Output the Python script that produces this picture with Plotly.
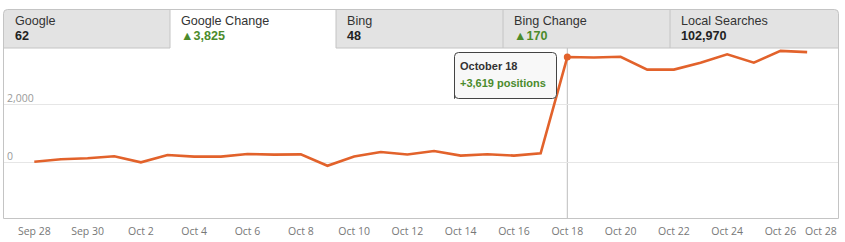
import plotly.graph_objects as go
import pandas as pd

# ---------------- data ----------------
DATES = pd.date_range("2013-09-28", "2013-10-27", freq="D")
GOOGLE_CHANGE = [10, 95, 130, 200, -10, 240, 185, 185, 275, 255,
                 262, -130, 190, 345, 260, 380, 220, 265, 220, 300,
                 3619, 3605, 3630, 3185, 3185, 3425, 3715, 3425, 3830, 3790]
TICK_DATES = pd.date_range("2013-09-28", "2013-10-26", freq="2D")
TICK_LABELS = [d.strftime("%b ") + str(d.day) for d in TICK_DATES]
LAST_TICK_DATE = pd.Timestamp("2013-10-28")
LAST_TICK_LABEL = "Oct 28"
Y_TICKS = [0, 2000]
Y_TICK_LABELS = ["0", "2,000"]
TAB_NAMES = ["Google", "Google Change", "Bing", "Bing Change", "Local Searches"]
TAB_VALUES = ["62", "▲3,825", "48", "▲170", "102,970"]
TAB_POSITIVE = [False, True, False, True, False]
SELECTED_TAB = 1
HOVER_INDEX = 20
HOVER_TITLE = "October 18"
HOVER_TEXT = "+3,619 positions"

# ---------------- geometry helpers ----------------
W, H = 845, 242
def px(x):
    return x / W
def py(y):
    return 1 - y / H

PL, PR, PT, PB = 4, 838, 48, 218        # plot area in pixels
TAB_TOP = 9.5
TAB_EDGES = [3.5, 170, 336, 503, 670, 838.5]

ORANGE = "#e2622b"
GREEN = "#4b8b2c"
BORDER = "#c4c4c4"
TAB_FILL = "#e3e3e3"

def path_px(points, close=False):
    s = ""
    for i, p in enumerate(points):
        if p[0] == "Q":
            _, cx, cy, x, y = p
            s += f" Q{px(cx)},{py(cy)} {px(x)},{py(y)}"
        else:
            x, y = p
            s += ("M" if i == 0 else " L") + f"{px(x)},{py(y)}"
    if close:
        s += " Z"
    return s

def rrect(x0, y0, x1, y1, r, top_only=False):
    pts = [(x0, y1), (x0, y0 + r), ("Q", x0, y0, x0 + r, y0), (x1 - r, y0),
           ("Q", x1, y0, x1, y0 + r)]
    if top_only:
        pts += [(x1, y1)]
    else:
        pts += [(x1, y1 - r), ("Q", x1, y1, x1 - r, y1), (x0 + r, y1),
                ("Q", x0, y1, x0, y1 - r)]
    return path_px(pts, close=True)

# x range from pixel calibration (Sep 28 at 34.3 px, 26.65 px/day)
day_px = 26.65
x0_date = DATES[0] + pd.Timedelta(days=(PL - 34.3) / day_px)
x1_date = DATES[0] + pd.Timedelta(days=(PR - 34.3) / day_px)
# y range from pixel calibration (0 at 162 px, 29 px per 1000)
ppu = 0.029
y_lo = (162 - PB) / ppu
y_hi = (162 - PT) / ppu

fig = go.Figure()
fig.add_trace(go.Scatter(x=DATES, y=GOOGLE_CHANGE, mode="lines",
                         line=dict(color=ORANGE, width=2.6), hoverinfo="skip"))
fig.add_trace(go.Scatter(x=[DATES[HOVER_INDEX]], y=[GOOGLE_CHANGE[HOVER_INDEX]],
                         mode="markers", marker=dict(color=ORANGE, size=7),
                         hoverinfo="skip"))

shapes = []
# hover vertical line
shapes.append(dict(type="line", xref="x", yref="paper",
                   x0=DATES[HOVER_INDEX], x1=DATES[HOVER_INDEX],
                   y0=py(PT), y1=py(PB), line=dict(color="#bdbdbd", width=1),
                   layer="below"))
# tab row background
shapes.append(dict(type="path", xref="paper", yref="paper",
                   path=rrect(TAB_EDGES[0], TAB_TOP, TAB_EDGES[-1], PT, 4, top_only=True),
                   fillcolor=TAB_FILL, line=dict(width=0)))
# selected tab white
shapes.append(dict(type="rect", xref="paper", yref="paper",
                   x0=px(TAB_EDGES[SELECTED_TAB]), x1=px(TAB_EDGES[SELECTED_TAB + 1]),
                   y0=py(PT + 1), y1=py(TAB_TOP + 0.5),
                   fillcolor="white", line=dict(width=0)))
# outer border (rounded top corners)
shapes.append(dict(type="path", xref="paper", yref="paper",
                   path=rrect(TAB_EDGES[0], TAB_TOP, TAB_EDGES[-1], PB + 0.5, 4, top_only=True),
                   line=dict(color=BORDER, width=1)))
# tab separators
for e in TAB_EDGES[1:-1]:
    shapes.append(dict(type="line", xref="paper", yref="paper",
                       x0=px(e), x1=px(e), y0=py(TAB_TOP), y1=py(PT),
                       line=dict(color=BORDER, width=1)))
# tab bottom line except under selected
shapes.append(dict(type="line", xref="paper", yref="paper",
                   x0=px(TAB_EDGES[0]), x1=px(TAB_EDGES[SELECTED_TAB]),
                   y0=py(PT), y1=py(PT), line=dict(color=BORDER, width=1)))
shapes.append(dict(type="line", xref="paper", yref="paper",
                   x0=px(TAB_EDGES[SELECTED_TAB + 1]), x1=px(TAB_EDGES[-1]),
                   y0=py(PT), y1=py(PT), line=dict(color=BORDER, width=1)))
# tooltip box
shapes.append(dict(type="path", xref="paper", yref="paper",
                   path=rrect(454.5, 52.5, 556.5, 98.5, 4),
                   fillcolor="#f8f8f8", line=dict(color="#444444", width=1)))

annotations = []
for i, (name, val, pos) in enumerate(zip(TAB_NAMES, TAB_VALUES, TAB_POSITIVE)):
    xl = px(TAB_EDGES[i] + 9)
    annotations.append(dict(xref="paper", yref="paper", x=xl, y=py(21.5),
                            xanchor="left", yanchor="middle", showarrow=False,
                            text=name, font=dict(family="Liberation Sans, Arial",
                                                 size=12.6, color="#333333")))
    annotations.append(dict(xref="paper", yref="paper", x=xl, y=py(36),
                            xanchor="left", yanchor="middle", showarrow=False,
                            text=f"<b>{val}</b>",
                            font=dict(family="Liberation Sans, Arial", size=12.6,
                                      color=GREEN if pos else "#222222")))
annotations.append(dict(xref="paper", yref="paper", x=px(458), y=py(66),
                        xanchor="left", yanchor="middle", showarrow=False,
                        text=f"<b>{HOVER_TITLE}</b>",
                        font=dict(family="Liberation Sans, Arial", size=11, color="#333333")))
annotations.append(dict(xref="paper", yref="paper", x=px(458), y=py(83),
                        xanchor="left", yanchor="middle", showarrow=False,
                        text=f"<b>{HOVER_TEXT}</b>",
                        font=dict(family="Liberation Sans, Arial", size=11, color=GREEN)))
# last x tick label kept inside the frame
annotations.append(dict(xref="x", yref="paper", x=LAST_TICK_DATE, y=py(231),
                        xanchor="right", yanchor="middle", xshift=5, showarrow=False,
                        text=LAST_TICK_LABEL,
                        font=dict(family="Open Sans", size=10.5, color="#777777")))

fig.update_layout(
    width=W, height=H, margin=dict(l=0, r=0, t=0, b=0),
    paper_bgcolor="white", plot_bgcolor="white", showlegend=False,
    shapes=shapes, annotations=annotations,
    xaxis=dict(domain=[px(PL), px(PR)], type="date", range=[x0_date, x1_date],
               tickvals=list(TICK_DATES), ticktext=TICK_LABELS,
               showgrid=False, zeroline=False, showline=False, ticks="",
               tickfont=dict(family="Open Sans", size=10.5, color="#777777"),
               ticklabelstandoff=5),
    yaxis=dict(domain=[py(PB), py(PT)], range=[y_lo, y_hi],
               tickvals=Y_TICKS, ticktext=Y_TICK_LABELS,
               showgrid=True, gridcolor="#e6e6e6", gridwidth=1,
               zeroline=False, showline=False, ticks="",
               ticklabelposition="inside", ticklabelshift=-6,
               tickfont=dict(family="Open Sans", size=10.5, color="#9a9a9a")),
)

fig.write_html("out.html")
